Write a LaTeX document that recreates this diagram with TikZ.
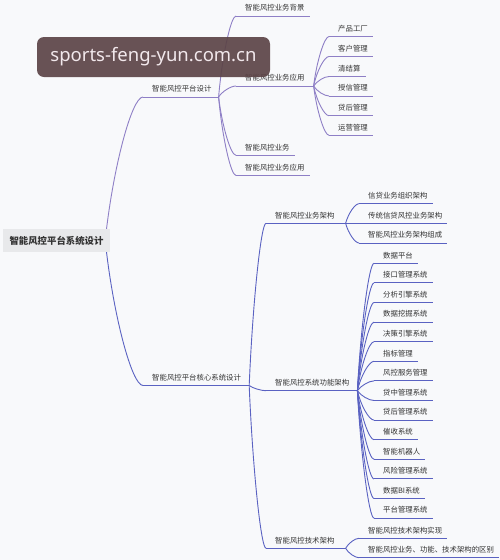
\documentclass[tikz,border=0pt]{standalone}
\usepackage{fontspec}
\setmainfont{Noto Sans CJK SC}
\newfontfamily\wmfont{Noto Sans}
\usetikzlibrary{calc}
\definecolor{bgc}{HTML}{F8F9FB}
\definecolor{txt}{HTML}{333333}
\definecolor{ca}{HTML}{8E7FC6}
\definecolor{cb}{HTML}{5A62C2}
\definecolor{rootbg}{HTML}{E8E9EB}
\definecolor{wm}{HTML}{5C4447}
\definecolor{wmtxt}{HTML}{F2E8EC}
\pgfdeclarelayer{bg}
\pgfdeclarelayer{edges}
\pgfdeclarelayer{top}
\pgfsetlayers{bg,edges,main,top}
\tikzset{
  topic/.style={anchor=south west, inner xsep=0pt, inner ysep=5pt, text depth=0pt,
    text=txt, font=\fontsize{7.4}{8}\selectfont,
    execute at begin node={\hspace*{9pt}}, execute at end node={\hspace*{#1}}},
  topic/.default=5pt,
  rootnode/.style={fill=rootbg, minimum width=107pt, minimum height=23pt, inner sep=0pt,
    text=txt, font=\fontsize{9.4}{10}\selectfont\bfseries},
  ea/.style={draw=ca, line width=0.9pt},
  eb/.style={draw=cb, line width=0.9pt},
  branch/.style={to path={let \p1=(\tikztostart), \p2=(\tikztotarget) in
    .. controls ({\x1+0.2*(\x2-\x1)},{\y1+0.5*(\y2-\y1)}) and ({\x1+0.7*(\x2-\x1)},{\y2}) .. (\tikztotarget)}},
  wmbox/.style={fill=wm, fill opacity=0.92, text opacity=1, rounded corners=7pt,
    minimum width=233pt, minimum height=40pt, inner sep=0pt, text=wmtxt,
    font=\wmfont\fontsize{18.5}{20}\selectfont}
}
\begin{document}
\begin{tikzpicture}[x=1pt, y=-1pt]
\useasboundingbox (0,0) rectangle (500,560);
\begin{pgfonlayer}{bg}
\fill[bgc] (0,0) rectangle (500,560);
\end{pgfonlayer}

% root
\node[rootnode] (R) at (56.5,240.5) {智能风控平台系统设计};

% branch A
\node[topic=7pt] (A) at (143,97) {智能风控平台设计};
\node[topic] (A1) at (236,16) {智能风控业务背景};
\node[topic=9pt] (A2) at (236,86) {智能风控业务应用};
\node[topic] (A21) at (329,36.5) {产品工厂};
\node[topic] (A22) at (329,56.5) {客户管理};
\node[topic] (A23) at (329,76.5) {清结算};
\node[topic] (A24) at (329,96) {授信管理};
\node[topic] (A25) at (329,115.7) {贷后管理};
\node[topic] (A26) at (329,135.3) {运营管理};
\node[topic] (A3) at (236,155.3) {智能风控业务};
\node[topic] (A4) at (236,175.5) {智能风控业务应用};

% branch B
\node[topic=8pt] (B) at (143,385.5) {智能风控平台核心系统设计};
\node[topic=11pt] (B1) at (266,223.3) {智能风控业务架构};
\node[topic] (B11) at (359,203.7) {信贷业务组织架构};
\node[topic] (B12) at (359,223.3) {传统信贷风控业务架构};
\node[topic] (B13) at (359,243) {智能风控业务架构组成};
\node[topic=8pt] (B2) at (266,390.7) {智能风控系统功能架构};
\foreach \t [count=\i from 0] in {数据平台,接口管理系统,分析引擎系统,数据挖掘系统,决策引擎系统,指标管理,风控服务管理,贷中管理系统,贷后管理系统,催收系统,智能机器人,风险管理系统,数据BI系统,平台管理系统}
  \node[topic] (F\i) at (374,{263.3+\i*19.6}) {\t};
\node[topic=11pt] (B3) at (266,548.3) {智能风控技术架构};
\node[topic] (B31) at (359,538.3) {智能风控技术架构实现};
\node[topic] (B32) at (359,557.7) {智能风控业务、功能、技术架构的区别};

\begin{pgfonlayer}{edges}
% root connectors
\draw[ea] ([xshift=-5pt]R.east) to[branch] (A.south west);
\draw[eb] ([xshift=-5pt]R.east) to[branch] (B.south west);
% underlines
\foreach \nd in {A,A1,A2,A21,A22,A23,A24,A25,A26,A3,A4}
  \draw[ea] (\nd.south west) -- (\nd.south east);
\foreach \nd in {B,B1,B11,B12,B13,B2,F0,F1,F2,F3,F4,F5,F6,F7,F8,F9,F10,F11,F12,F13,B3,B31,B32}
  \draw[eb] (\nd.south west) -- (\nd.south east);
% branch A connectors
\foreach \nd in {A1,A2,A3,A4}
  \draw[ea] (A.south east) to[branch] (\nd.south west);
\foreach \nd in {A21,A22,A23,A24,A25,A26}
  \draw[ea] (A2.south east) to[branch] (\nd.south west);
% branch B connectors
\foreach \nd in {B1,B2,B3}
  \draw[eb] (B.south east) to[branch] (\nd.south west);
\foreach \nd in {B11,B12,B13}
  \draw[eb] (B1.south east) to[branch] (\nd.south west);
\foreach \nd in {F0,F1,F2,F3,F4,F5,F6,F7,F8,F9,F10,F11,F12,F13}
  \draw[eb] (B2.south east) to[branch] (\nd.south west);
\foreach \nd in {B31,B32}
  \draw[eb] (B3.south east) to[branch] (\nd.south west);
\end{pgfonlayer}

\begin{pgfonlayer}{top}
\node[wmbox] (W) at (153.5,57) {sports-feng-yun.com.cn};
\end{pgfonlayer}
\end{tikzpicture}
\end{document}
